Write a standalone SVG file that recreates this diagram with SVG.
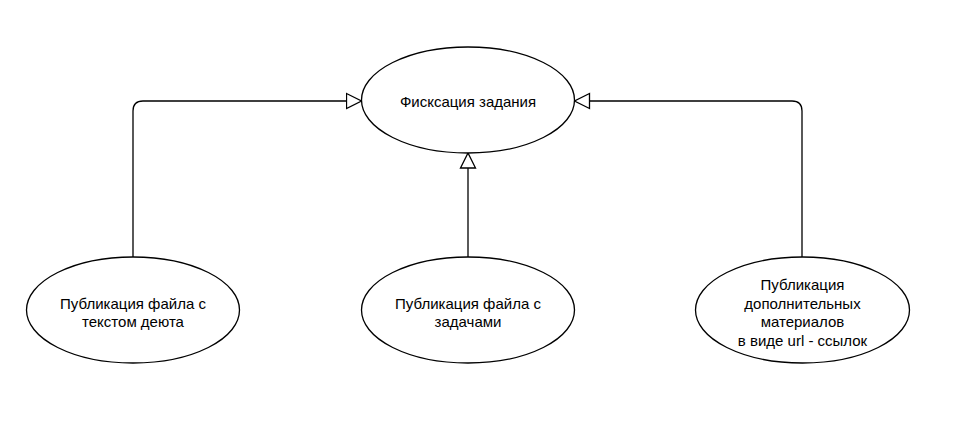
<svg xmlns="http://www.w3.org/2000/svg" width="967" height="438" viewBox="0 0 967 438">
<style>
.n{fill:#fff;stroke:#000;stroke-width:1.3}
.c{fill:none;stroke:#000;stroke-width:1.3}
text{font-family:"Liberation Sans",Arial,sans-serif;font-size:15px;fill:#000;text-anchor:middle}
</style>
<defs>
<marker id="tri" markerUnits="userSpaceOnUse" markerWidth="18" markerHeight="18" viewBox="-1 -1 18 17" refX="15" refY="7.5" orient="auto">
<path d="M0,0 L15,7.5 L0,15 Z" fill="#fff" stroke="#000" stroke-width="1.3"/>
</marker>
</defs>
<rect width="967" height="438" fill="#fff"/>
<g id="connectors">
<path class="c" d="M133,257 V111 Q133,101 143,101 H361.5" marker-end="url(#tri)"/>
<path class="c" d="M802,257 V111 Q802,101 792,101 H574.5" marker-end="url(#tri)"/>
<path class="c" d="M468,257 V153" marker-end="url(#tri)"/>
</g>
<g id="fix">
<ellipse class="n" cx="468" cy="100" rx="106.5" ry="53"/>
<text x="468" y="107">Фисксация задания</text>
</g>
<g id="pub-deut">
<ellipse class="n" cx="133" cy="310" rx="106.5" ry="53"/>
<text x="133" y="308.5">Публикация файла с</text>
<text x="133" y="327">текстом деюта</text>
</g>
<g id="pub-tasks">
<ellipse class="n" cx="468" cy="310" rx="106.5" ry="53"/>
<text x="468" y="308.5">Публикация файла с</text>
<text x="468" y="327">задачами</text>
</g>
<g id="pub-url">
<ellipse class="n" cx="802.5" cy="310" rx="107" ry="53"/>
<text x="802.5" y="290">Публикация</text>
<text x="802.5" y="308.5">дополнительных</text>
<text x="802.5" y="327">материалов</text>
<text x="802.5" y="345.5">в виде url - ссылок</text>
</g>
</svg>
